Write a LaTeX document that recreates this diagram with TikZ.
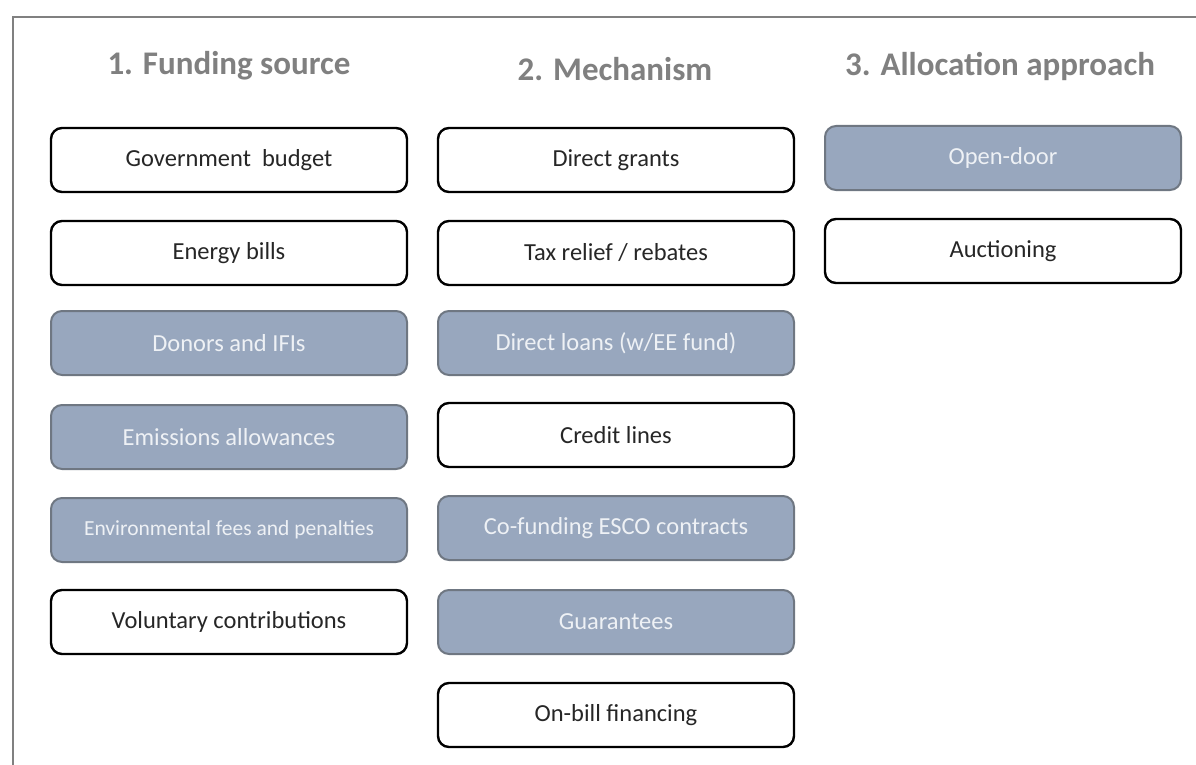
\documentclass[tikz,border=0pt]{standalone}
\usepackage{fontspec}
\setmainfont{Carlito}
\begin{document}
\definecolor{headgray}{HTML}{808080}
\definecolor{boxfill}{HTML}{98A7BE}
\definecolor{boxedge}{HTML}{6F7782}
\definecolor{boxtext}{HTML}{EEF1F5}
\definecolor{framegray}{HTML}{808080}
\begin{tikzpicture}[x=1pt,y=-1pt,
  heading/.style={font=\fontsize{33}{38}\selectfont\bfseries, text=headgray},
  optbox/.style={draw=black, line width=2.4pt, fill=white, rounded corners=11pt,
    minimum width=356pt, minimum height=64pt, inner sep=0pt,
    font=\fontsize{24.5}{29}\selectfont, text=black!85},
  shadedbox/.style={optbox, draw=boxedge, line width=2pt, fill=boxfill, text=boxtext},
  smalltext/.style={font=\fontsize{21.5}{26}\selectfont}
]
\useasboundingbox (0,0) rectangle (1196,765);
% outer frame (top and left edges)
\draw[framegray, line width=2pt] (13,765) -- (13,17) -- (1196,17);

% column headings
\node[heading] (h1) at (229,66) {1. Funding source};
\node[heading] (h2) at (615,69) {2. Mechanism};
\node[heading] (h3) at (1000,66) {3. Allocation approach};

% 1. Funding source
\node[optbox]    (f1) at (229,160) {Government\ \ budget};
\node[optbox]    (f2) at (229,253) {Energy bills};
\node[shadedbox] (f3) at (229,343) {Donors and IFIs};
\node[shadedbox] (f4) at (229,437) {Emissions allowances};
\node[shadedbox, smalltext] (f5) at (229,530) {Environmental fees and penalties};
\node[optbox]    (f6) at (229,622) {Voluntary contributions};

% 2. Mechanism
\node[optbox]    (m1) at (616,160) {Direct grants};
\node[optbox]    (m2) at (616,253) {Tax relief / rebates};
\node[shadedbox] (m3) at (616,343) {Direct loans (w/EE fund)};
\node[optbox]    (m4) at (616,435) {Credit lines};
\node[shadedbox] (m5) at (616,528) {Co-funding ESCO contracts};
\node[shadedbox] (m6) at (616,622) {Guarantees};
\node[optbox]    (m7) at (616,715) {On-bill financing};

% 3. Allocation approach
\node[shadedbox] (a1) at (1003,158) {Open-door};
\node[optbox]    (a2) at (1003,251) {Auctioning};
\end{tikzpicture}
\end{document}
